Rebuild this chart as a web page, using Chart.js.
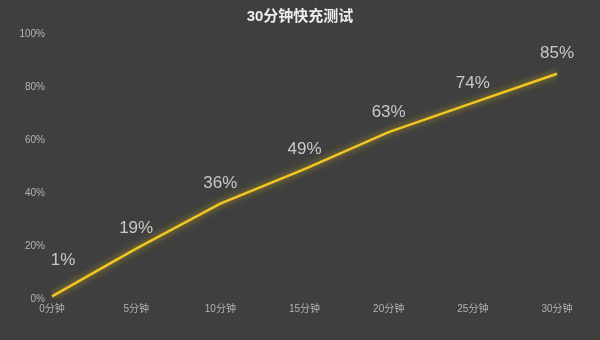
<!DOCTYPE html>
<html>
<head>
<meta charset="utf-8">
<script src="https://cdn.jsdelivr.net/npm/chart.js@4"></script>
<style>
  html, body { margin: 0; padding: 0; background: #3f3f3f; }
  #wrap { width: 600px; height: 340px; }
</style>
</head>
<body>
<div id="wrap"><canvas id="chart" width="600" height="340"></canvas></div>
<script>
// datos
const minutos = ['0分钟', '5分钟', '10分钟', '15分钟', '20分钟', '25分钟', '30分钟'];
const bateria = [1, 19, 36, 49, 63, 74, 85];
const titulo = '30分钟快充测试';

const fuente = "'Liberation Sans', 'Noto Sans CJK SC', sans-serif";

// fondo gris oscuro y titulo centrado en todo el lienzo
const fondo = {
  id: 'fondo',
  beforeDraw(chart) {
    const ctx = chart.ctx;
    ctx.save();
    ctx.fillStyle = '#3f3f3f';
    ctx.fillRect(0, 0, chart.width, chart.height);
    ctx.font = 'bold 15px ' + fuente;
    ctx.fillStyle = '#ececec';
    ctx.textAlign = 'center';
    ctx.textBaseline = 'middle';
    ctx.fillText(titulo, chart.width / 2, 17);
    ctx.restore();
  }
};

// brillo amarillo alrededor de la linea
const brillo = {
  id: 'brillo',
  beforeDatasetsDraw(chart) {
    chart.ctx.save();
    chart.ctx.shadowColor = 'rgba(225, 195, 20, 0.8)';
    chart.ctx.shadowBlur = 7;
  },
  afterDatasetsDraw(chart) {
    chart.ctx.restore();
  }
};

// etiquetas de porcentaje encima de cada punto
const etiquetas = {
  id: 'etiquetas',
  afterDatasetsDraw(chart) {
    const ctx = chart.ctx;
    const meta = chart.getDatasetMeta(0);
    ctx.save();
    ctx.font = '17px ' + fuente;
    ctx.fillStyle = '#c9c9c9';
    ctx.textAlign = 'center';
    ctx.textBaseline = 'middle';
    meta.data.forEach((pt, i) => {
      let dx = 0, dy = -20;
      if (i === 0) { dx = 11; dy = -36; }
      ctx.fillText(bateria[i] + '%', pt.x + dx, pt.y + dy);
    });
    ctx.restore();
  }
};

const ctx = document.getElementById('chart').getContext('2d');
new Chart(ctx, {
  type: 'line',
  data: {
    labels: minutos,
    datasets: [{
      data: bateria,
      borderColor: '#f2c522',
      borderWidth: 2.5,
      pointRadius: 0,
      tension: 0,
      fill: false
    }]
  },
  options: {
    responsive: false,
    animation: false,
    layout: { padding: { left: 0, right: 43, top: 34, bottom: 0 } },
    plugins: {
      legend: { display: false },
      tooltip: { enabled: false },
      title: { display: false }
    },
    scales: {
      x: {
        offset: false,
        grid: { display: false, drawTicks: false },
        border: { display: false },
        ticks: {
          color: '#b4b4b4',
          font: { family: fuente, size: 10 },
          padding: 4,
          maxRotation: 0,
          autoSkip: false
        },
        afterFit(s) { s.height = 41; }
      },
      y: {
        min: 0,
        max: 100,
        grid: { display: false, drawTicks: false },
        border: { display: false },
        ticks: {
          stepSize: 20,
          color: '#b4b4b4',
          font: { family: fuente, size: 10 },
          padding: 7,
          callback: (v) => v + '%'
        },
        afterFit(s) { s.width = 52; }
      }
    }
  },
  plugins: [fondo, brillo, etiquetas]
});
</script>
</body>
</html>
